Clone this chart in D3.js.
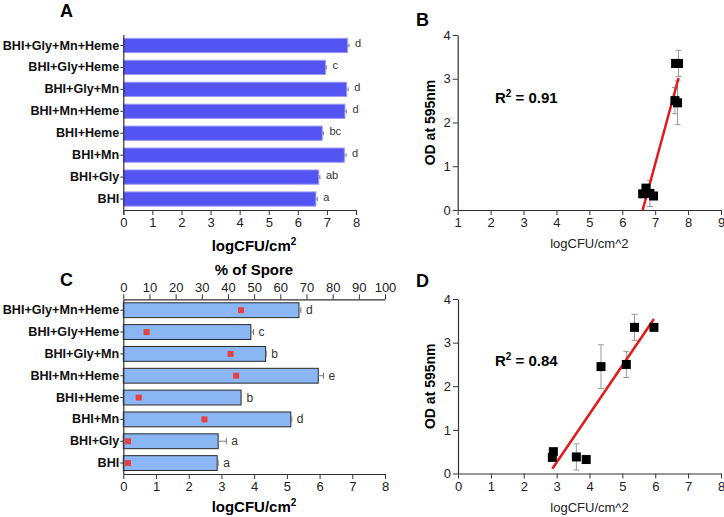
<!DOCTYPE html>
<html><head><meta charset="utf-8">
<script src="https://cdn.jsdelivr.net/npm/d3@7"></script>
<style>body{margin:0;background:#fff}svg{display:block}text{font-family:"Liberation Sans",Arial,sans-serif}</style>
</head><body>
<script>
const categories = ["BHI+Gly+Mn+Heme","BHI+Gly+Heme","BHI+Gly+Mn","BHI+Mn+Heme","BHI+Heme","BHI+Mn","BHI+Gly","BHI"];
const aValues = [7.71, 6.95, 7.68, 7.62, 6.84, 7.60, 6.72, 6.62];
const aErrors = [0.05, 0.04, 0.05, 0.05, 0.04, 0.06, 0.04, 0.05];
const aLetters = ["d","c","d","d","bc","d","ab","a"];
const cValues = [5.37, 3.90, 4.35, 5.96, 3.60, 5.12, 2.90, 2.87];
const cErrors = [0.06, 0.08, 0.02, 0.16, 0.01, 0.03, 0.25, 0.03];
const cLetters = ["d","c","b","e","b","d","a","a"];
const sporePct = [45.0, 8.9, 41.0, 43.1, 5.9, 31.0, 1.8, 1.8];
const odValues = [3.35, 0.32, 2.45, 3.35, 0.38, 2.50, 0.50, 0.37];
const odErrors = [0.30, 0.04, 0.50, 0.05, 0.30, 0.30, 0.08, 0.06];
const xTicksA = [0,1,2,3,4,5,6,7,8];
const xTicksB = [1,2,3,4,5,6,7,8,9];
const xTicksC = [0,1,2,3,4,5,6,7,8];
const topTicksC = [0,10,20,30,40,50,60,70,80,90,100];
const xTicksD = [0,1,2,3,4,5,6,7,8];
const yTicksOD = [0,1,2,3,4];
const r2B = "0.91", r2D = "0.84";

const W = 724, H = 517;
const svg = d3.select("body").append("svg").attr("width", W).attr("height", H);
const axisCol = "#333", tickTxt = "#222";

function styleAxis(g, fs) {
  g.selectAll("path.domain").attr("stroke", axisCol).attr("stroke-width", 1.2);
  g.selectAll(".tick line").attr("stroke", axisCol).attr("stroke-width", 1);
  g.selectAll(".tick text").attr("fill", tickTxt).attr("font-size", fs)
    .attr("font-family", '"Liberation Sans",Arial,sans-serif');
}
function panelLetter(t, x, y) {
  svg.append("text").attr("x", x).attr("y", y).attr("font-size", 18).attr("font-weight", "bold").text(t);
}
function cfuTitle(x, y) {
  const t = svg.append("text").attr("x", x).attr("y", y).attr("text-anchor", "middle")
    .attr("font-size", 15).attr("font-weight", "bold");
  t.append("tspan").text("logCFU/cm");
  t.append("tspan").attr("dy", -6).attr("font-size", 10).text("2");
}

// ---------- Panel A ----------
(function () {
  const x = d3.scaleLinear().domain([0, 8]).range([123.3, 356]);
  const y = d3.scaleBand().domain(categories).range([34.5, 210]).paddingInner(0.35).paddingOuter(0.175);
  const g = svg.append("g");
  g.selectAll("rect.bar").data(categories).join("rect")
    .attr("x", x(0)).attr("y", d => y(d)).attr("height", y.bandwidth())
    .attr("width", (d, i) => x(aValues[i]) - x(0))
    .attr("fill", "#5454f2").attr("stroke", "#9b9bf6").attr("stroke-width", 1);
  categories.forEach((c, i) => {
    const cy = y(c) + y.bandwidth() / 2, x1 = x(aValues[i]), x2 = x(aValues[i] + aErrors[i]);
    g.append("line").attr("x1", x1).attr("x2", x2).attr("y1", cy).attr("y2", cy).attr("stroke", "#888");
    g.append("line").attr("x1", x2).attr("x2", x2).attr("y1", cy - 2).attr("y2", cy + 2).attr("stroke", "#888");
    g.append("text").attr("x", x2 + 6).attr("y", cy + 2).attr("font-size", 11).attr("fill", "#333").text(aLetters[i]);
  });
  const ax = svg.append("g").attr("transform", "translate(0,210)")
    .call(d3.axisBottom(x).tickValues(xTicksA).tickFormat(d3.format("d")).tickSizeOuter(0).tickSize(5).tickPadding(3));
  styleAxis(ax, 13);
  const ay = svg.append("g").attr("transform", `translate(${x(0)},0)`)
    .call(d3.axisLeft(y).tickSize(3).tickSizeOuter(0).tickPadding(1));
  styleAxis(ay, 12.6);
  ay.selectAll(".tick text").attr("font-weight", "bold").attr("fill", "#111");
  cfuTitle(254, 251);
  panelLetter("A", 60, 17);
})();

// ---------- Scatter helper ----------
function scatter(xs, xDomain, xRange, xTicks, yRange, r2, r2Y, xTitleY) {
  const x = d3.scaleLinear().domain(xDomain).range(xRange);
  const y = d3.scaleLinear().domain([0, 4]).range(yRange);
  const g = svg.append("g");
  const ax = svg.append("g").attr("transform", `translate(0,${yRange[0]})`)
    .call(d3.axisBottom(x).tickValues(xTicks).tickFormat(d3.format("d")).tickSize(5).tickSizeOuter(0).tickPadding(3));
  styleAxis(ax, 13);
  const ay = svg.append("g").attr("transform", `translate(${xRange[0]},0)`)
    .call(d3.axisLeft(y).tickValues(yTicksOD).tickFormat(d3.format("d")).tickSize(5).tickSizeOuter(0).tickPadding(2));
  styleAxis(ay, 13);
  xs.forEach((xv, i) => {
    const cx = x(xv), t = y(odValues[i] + odErrors[i]), b = y(odValues[i] - odErrors[i]);
    g.append("line").attr("x1", cx).attr("x2", cx).attr("y1", t).attr("y2", b).attr("stroke", "#999").attr("stroke-width", 1);
    [t, b].forEach(v => g.append("line").attr("x1", cx - 3).attr("x2", cx + 3).attr("y1", v).attr("y2", v).attr("stroke", "#999").attr("stroke-width", 1));
  });
  const mx = d3.mean(xs), my = d3.mean(odValues);
  const sxy = d3.sum(xs, (v, i) => (v - mx) * (odValues[i] - my));
  const sxx = d3.sum(xs, v => (v - mx) * (v - mx));
  const slope = sxy / sxx, icpt = my - slope * mx;
  const [x0, x1] = d3.extent(xs);
  svg.append("line").attr("x1", x(x0)).attr("y1", y(Math.max(0, slope * x0 + icpt)))
    .attr("x2", x(x1)).attr("y2", y(slope * x1 + icpt)).attr("stroke", "#e3191c").attr("stroke-width", 2.5);
  const s = 9;
  svg.append("g").selectAll("rect").data(xs).join("rect")
    .attr("x", d => x(d) - s / 2).attr("y", (d, i) => y(odValues[i]) - s / 2)
    .attr("width", s).attr("height", s).attr("fill", "#000");
  const cy = (yRange[0] + yRange[1]) / 2;
  svg.append("text").attr("transform", `translate(435,${cy}) rotate(-90)`).attr("text-anchor", "middle")
    .attr("font-size", 14).attr("font-weight", "bold").text("OD at 595nm");
  svg.append("text").attr("x", (xRange[0] + xRange[1]) / 2).attr("y", xTitleY).attr("text-anchor", "middle")
    .attr("font-size", 13).attr("fill", "#222").text("logCFU/cm^2");
  const rt = svg.append("text").attr("x", 495).attr("y", r2Y).attr("font-size", 15).attr("font-weight", "bold");
  rt.append("tspan").text("R");
  rt.append("tspan").attr("dy", -6).attr("font-size", 10).text("2");
  rt.append("tspan").attr("dy", 6).text(" = " + r2);
}
scatter(aValues, [1, 9], [457.7, 721], xTicksB, [210, 35], r2B, 103, 248);
panelLetter("B", 416, 26);

// ---------- Panel C ----------
(function () {
  const x = d3.scaleLinear().domain([0, 8]).range([123.3, 385]);
  const xp = d3.scaleLinear().domain([0, 100]).range([123.3, 385]);
  const y = d3.scaleBand().domain(categories).range([299.3, 474]).paddingInner(0.32).paddingOuter(0.16);
  const g = svg.append("g");
  g.selectAll("rect.bar").data(categories).join("rect")
    .attr("x", x(0)).attr("y", d => y(d)).attr("height", y.bandwidth())
    .attr("width", (d, i) => x(cValues[i]) - x(0))
    .attr("fill", "#8ab6f4").attr("stroke", "#2a2a2a").attr("stroke-width", 1);
  categories.forEach((c, i) => {
    const cy = y(c) + y.bandwidth() / 2, x1 = x(cValues[i]), x2 = x(cValues[i] + cErrors[i]);
    g.append("line").attr("x1", x1).attr("x2", x2).attr("y1", cy).attr("y2", cy).attr("stroke", "#777");
    g.append("line").attr("x1", x2).attr("x2", x2).attr("y1", cy - 3).attr("y2", cy + 3).attr("stroke", "#777");
    g.append("text").attr("x", x2 + 5).attr("y", cy + 4).attr("font-size", 12).attr("fill", "#333").text(cLetters[i]);
  });
  g.selectAll("rect.sp").data(categories).join("rect").attr("class", "sp")
    .attr("x", (d, i) => xp(sporePct[i]) - 3).attr("y", d => y(d) + y.bandwidth() / 2 - 3)
    .attr("width", 6).attr("height", 6).attr("fill", "#e8403e");
  const ax = svg.append("g").attr("transform", "translate(0,474)")
    .call(d3.axisBottom(x).tickValues(xTicksC).tickFormat(d3.format("d")).tickSize(5).tickSizeOuter(0).tickPadding(3));
  styleAxis(ax, 13);
  const at = svg.append("g").attr("transform", "translate(0,299.3)")
    .call(d3.axisTop(xp).tickValues(topTicksC).tickFormat(d3.format("d")).tickSize(5).tickSizeOuter(0).tickPadding(2));
  styleAxis(at, 13);
  const ay = svg.append("g").attr("transform", `translate(${x(0)},0)`)
    .call(d3.axisLeft(y).tickSize(3).tickSizeOuter(0).tickPadding(1));
  styleAxis(ay, 12.6);
  ay.selectAll(".tick text").attr("font-weight", "bold").attr("fill", "#111");
  cfuTitle(254, 512);
  svg.append("text").attr("x", 254).attr("y", 275).attr("text-anchor", "middle")
    .attr("font-size", 15).attr("font-weight", "bold").text("% of Spore");
  panelLetter("C", 60, 286);
})();

// ---------- Panel D ----------
scatter(cValues, [0, 8], [458, 721], xTicksD, [473.5, 299], r2D, 366, 512);
panelLetter("D", 416, 287);
</script>
</body></html>
